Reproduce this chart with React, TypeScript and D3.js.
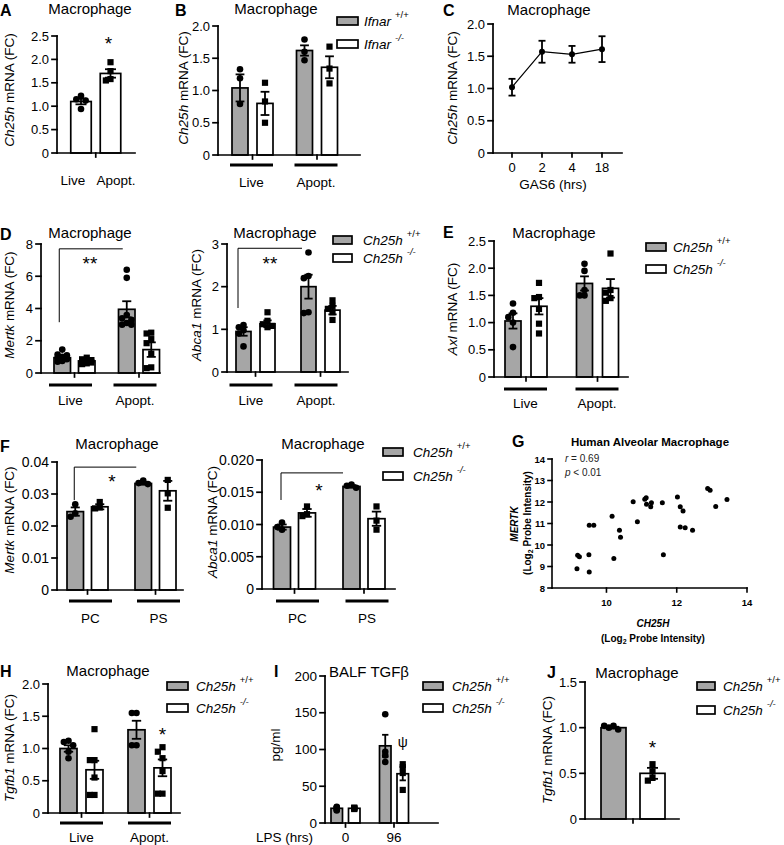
import React from "react";
import * as d3 from "d3";

const FONT = "'Liberation Sans', Arial, Helvetica, sans-serif";
const GRAY = "#a6a6a6";
const SW = 1.7;

// ---------------- DATA ----------------
const liveApopt = ["Live", "Apopt."];
const pcps = ["PC", "PS"];
const lpsHrs = ["0", "96"];
const single = ["all"];

// A
const aMean = [1.1, 1.7];
const aSem = [0.06, 0.09];
const aPts = [[1.22, 1.15, 1.12, 0.94], [1.94, 1.75, 1.58, 1.55]];
// B (Ifnar)
const bWtMean = [1.04, 1.62];
const bWtSem = [0.21, 0.08];
const bWtPts = [[1.33, 1.19, 0.79], [1.79, 1.6, 1.47]];
const bKoMean = [0.8, 1.36];
const bKoSem = [0.18, 0.17];
const bKoPts = [[1.12, 0.83, 0.5], [1.68, 1.34, 1.11]];
// C
const cTime = ["0", "2", "4", "18"];
const cMean = [1.02, 1.57, 1.53, 1.61];
const cSem = [0.13, 0.17, 0.13, 0.2];
// D Mertk
const dMWtMean = [0.95, 3.95];
const dMWtSem = [0.1, 0.5];
const dMWtPts = [[1.45, 1.15, 1.1, 1.0, 0.95, 0.85, 0.75, 0.7], [6.4, 5.9, 3.6, 3.4, 3.3, 3.1, 3.0, 3.0]];
const dMKoMean = [0.75, 1.45];
const dMKoSem = [0.06, 0.45];
const dMKoPts = [[0.95, 0.85, 0.8, 0.75, 0.7, 0.65, 0.6, 0.55], [2.5, 2.45, 2.1, 1.85, 1.2, 0.35, 0.3]];
// D Abca1
const dAWtMean = [0.95, 2.0];
const dAWtSem = [0.1, 0.28];
const dAWtPts = [[1.1, 1.05, 0.98, 0.9, 0.6], [2.8, 2.25, 2.2, 1.4, 1.38]];
const dAKoMean = [1.13, 1.45];
const dAKoSem = [0.08, 0.1];
const dAKoPts = [[1.4, 1.2, 1.12, 1.08, 1.05], [1.68, 1.55, 1.48, 1.4, 1.22]];
// E Axl
const eWtMean = [1.03, 1.72];
const eWtSem = [0.14, 0.13];
const eWtPts = [[1.35, 1.18, 1.1, 1.0, 0.55], [2.08, 1.95, 1.6, 1.5, 1.5]];
const eKoMean = [1.3, 1.63];
const eKoSem = [0.15, 0.17];
const eKoPts = [[1.73, 1.47, 1.45, 1.25, 0.98, 0.8], [2.27, 1.6, 1.55, 1.45, 1.4]];
// F Mertk
const fMWtMean = [0.0245, 0.0333];
const fMWtSem = [0.0013, 0.0004];
const fMWtPts = [[0.0268, 0.024, 0.0229], [0.0342, 0.0334, 0.0331]];
const fMKoMean = [0.026, 0.031];
const fMKoSem = [0.0008, 0.0031];
const fMKoPts = [[0.0275, 0.0258, 0.0255], [0.0344, 0.0302, 0.0257]];
// F Abca1
const fAWtMean = [0.0096, 0.0159];
const fAWtSem = [0.0004, 0.0002];
const fAWtPts = [[0.0103, 0.0096, 0.0092], [0.0162, 0.016, 0.0157]];
const fAKoMean = [0.0118, 0.0109];
const fAKoSem = [0.0006, 0.0011];
const fAKoPts = [[0.0128, 0.0116, 0.0113], [0.0128, 0.0106, 0.0092]];
// G scatter
const gX = [9.16, 9.18, 9.23, 9.5, 9.51, 9.51, 9.64, 10.16, 10.21, 10.37, 10.4, 10.76, 10.88, 11.09, 11.13, 11.14, 11.26, 11.28, 11.59, 11.62, 12.02, 12.1, 12.1, 12.18, 12.24, 12.45, 12.88, 12.95, 13.11, 13.43];
const gY = [8.89, 9.52, 9.45, 9.55, 8.75, 10.92, 10.92, 11.34, 9.37, 10.69, 10.36, 12.01, 11.08, 12.13, 12.2, 11.9, 11.78, 11.96, 11.96, 9.55, 12.23, 11.78, 10.84, 11.58, 10.8, 10.69, 12.63, 12.55, 11.79, 12.12];
// H Tgfb1
const hWtMean = [1.0, 1.29];
const hWtSem = [0.05, 0.14];
const hWtPts = [[1.12, 1.1, 1.05, 0.95, 0.85], [1.55, 1.55, 1.05, 1.05]];
const hKoMean = [0.67, 0.7];
const hKoSem = [0.14, 0.13];
const hKoPts = [[1.3, 0.82, 0.82, 0.55, 0.28, 0.28], [1.02, 0.95, 0.85, 0.65, 0.3, 0.3]];
// I BALF TGFb
const iWtMean = [20, 105];
const iWtSem = [2, 15];
const iWtPts = [[22, 21, 18, 17], [148, 97, 92, 83]];
const iKoMean = [20, 67];
const iKoSem = [1, 9];
const iKoPts = [[21, 20, 20, 19], [80, 76, 68, 45]];
// J
const jWtMean = [1.0];
const jWtSem = [0.01];
const jWtPts = [[1.02, 1.02, 1.0, 0.98]];
const jKoMean = [0.5];
const jKoSem = [0.06];
const jKoPts = [[0.6, 0.52, 0.45, 0.42]];

// tick values / labels
const t25 = [0, 0.5, 1, 1.5, 2, 2.5];
const t25L = ["0", "0.5", "1.0", "1.5", "2.0", "2.5"];
const t20 = [0, 0.5, 1, 1.5, 2];
const t20L = ["0", "0.5", "1.0", "1.5", "2.0"];
const t8 = [0, 2, 4, 6, 8];
const t8L = ["0", "2", "4", "6", "8"];
const t3 = [0, 1, 2, 3];
const t3L = ["0", "1", "2", "3"];
const t04 = [0, 0.01, 0.02, 0.03, 0.04];
const t04L = ["0", "0.01", "0.02", "0.03", "0.04"];
const t02 = [0, 0.005, 0.01, 0.015, 0.02];
const t02L = ["0", "0.005", "0.010", "0.015", "0.020"];
const t200 = [0, 50, 100, 150, 200];
const t200L = ["0", "50", "100", "150", "200"];
const t15 = [0, 0.5, 1, 1.5];
const t15L = ["0", "0.5", "1.0", "1.5"];
const gXT = [10, 12, 14];
const gYT = [8, 9, 10, 11, 12, 13, 14];

// ---------------- HELPERS ----------------
type SeriesT = { fill: string; marker: string[]; mean: number[]; sem: number[]; pts: number[][] };
type Annot = { g: number; s: number; v: number; text: string; dx?: number; size?: number; base?: number };
type Bracket = { g0: number; g1: number; s: number; top: number; leg: number; dx0: number; dx1: number; text: string; tx: number; ty: number };

function swarm(vals: number[], y: (v: number) => number, r: number, maxOff: number) {
  const placed: [number, number][] = [];
  const spread = r * 1.5;
  const cands = [0, -1, 1, -2, 2, -3, 3].map((k) => k * spread).filter((c) => Math.abs(c) <= maxOff);
  return vals.map((v) => {
    const py = y(v);
    let best = cands[0];
    let bestD = -1;
    for (const c of cands) {
      const d = placed.length ? Math.min(...placed.map(([qx, qy]) => Math.hypot(qx - c, qy - py))) : Infinity;
      if (d >= 2 * r * 0.8) {
        best = c;
        bestD = d;
        break;
      }
      if (d > bestD) {
        bestD = d;
        best = c;
      }
    }
    placed.push([best, py]);
    return [best, py];
  });
}

function BarPanel(p: {
  cats: string[];
  series: SeriesT[];
  domain: [number, number];
  ticks: number[];
  tickLabels: string[];
  tickSize?: number;
  x0: number;
  x1: number;
  yB: number;
  yT: number;
  gRange: [number, number];
  half: number;
  bw: number;
  tickAt?: string;
  showCats?: boolean;
  catY?: number;
  catDx?: number[];
  underY?: number;
  underDx?: number;
  annots?: Annot[];
  brackets?: Bracket[];
}) {
  const y = d3.scaleLinear().domain(p.domain).range([p.yB, p.yT]);
  const gx = d3.scalePoint<string>().domain(p.cats).range(p.gRange);
  const nS = p.series.length;
  const step = nS > 1 ? 2 * p.half - p.bw : p.bw;
  const sx = d3
    .scaleBand<number>()
    .domain(d3.range(nS))
    .range([-p.half, p.half])
    .paddingInner(nS > 1 ? 1 - p.bw / step : 0)
    .paddingOuter(0);
  const bw = sx.bandwidth();
  const left = (g: number, s: number) => (gx(p.cats[g]) as number) + (sx(s) as number);
  const mid = (g: number, s: number) => left(g, s) + bw / 2;
  const gC = p.cats.map((c) => gx(c) as number);
  const xTicks = p.tickAt === "middle" ? [d3.mean(gC) as number] : gC;
  const capW = Math.min(bw * 0.55, 11);
  const r = 3.1;
  const udx = p.underDx ?? 0;
  const ts = p.tickSize ?? 13;
  return (
    <g>
      {p.series.map((s, si) =>
        p.cats.map((c, gi) => (
          <rect
            key={`b${si}-${gi}`}
            x={left(gi, si)}
            y={y(s.mean[gi])}
            width={bw}
            height={y(p.domain[0]) - y(s.mean[gi])}
            fill={s.fill}
            stroke="#000"
            strokeWidth={SW}
          />
        ))
      )}
      {p.series.map((s, si) =>
        p.cats.map((c, gi) =>
          swarm(s.pts[gi], y, r, Math.max(bw / 2 - 2, 4)).map(([dx, py], k) =>
            s.marker[gi] === "s" ? (
              <rect key={`p${si}-${gi}-${k}`} x={mid(gi, si) + dx - r} y={py - r} width={2 * r} height={2 * r} fill="#000" />
            ) : (
              <circle key={`p${si}-${gi}-${k}`} cx={mid(gi, si) + dx} cy={py} r={r + 0.2} fill="#000" />
            )
          )
        )
      )}
      {p.series.map((s, si) =>
        p.cats.map((c, gi) => {
          const cx = mid(gi, si);
          const hi = y(s.mean[gi] + s.sem[gi]);
          const lo = y(s.mean[gi] - s.sem[gi]);
          return (
            <g key={`e${si}-${gi}`} stroke="#000" strokeWidth={1.8}>
              <line x1={cx} x2={cx} y1={hi} y2={lo} />
              <line x1={cx - capW / 2} x2={cx + capW / 2} y1={hi} y2={hi} />
              <line x1={cx - capW / 2} x2={cx + capW / 2} y1={lo} y2={lo} />
            </g>
          );
        })
      )}
      {/* axes */}
      <g stroke="#000" strokeWidth={SW} strokeLinecap="square">
        <line x1={p.x0} x2={p.x0} y1={p.yB} y2={p.yT} />
        <line x1={p.x0} x2={p.x1} y1={p.yB} y2={p.yB} />
        {p.ticks.map((t) => (
          <line key={`yt${t}`} x1={p.x0 - 5} x2={p.x0} y1={y(t)} y2={y(t)} />
        ))}
        {xTicks.map((t, i) => (
          <line key={`xt${i}`} x1={t} x2={t} y1={p.yB} y2={p.yB + 4} />
        ))}
      </g>
      {p.ticks.map((t, i) => (
        <text key={`yl${t}`} x={p.x0 - 8} y={y(t)} textAnchor="end" dominantBaseline="central" fontSize={ts}>
          {p.tickLabels[i]}
        </text>
      ))}
      {p.underY !== undefined &&
        gC.map((c, i) => (
          <line key={`u${i}`} x1={c + udx - 21.5} x2={c + udx + 21.5} y1={p.underY} y2={p.underY} stroke="#000" strokeWidth={3} />
        ))}
      {p.showCats !== false &&
        p.cats.map((c, i) => (
          <text
            key={`c${i}`}
            x={gC[i] + udx + (p.catDx ? p.catDx[i] : 0)}
            y={p.catY}
            textAnchor="middle"
            dominantBaseline="central"
            fontSize={13.5}
          >
            {c}
          </text>
        ))}
      {(p.brackets || []).map((b, i) => {
        const xa = mid(b.g0, b.s) + b.dx0;
        const xb = mid(b.g1, b.s) + b.dx1;
        return (
          <g key={`br${i}`}>
            <path d={`M${xa},${y(b.leg)}V${y(b.top)}H${xb}`} fill="none" stroke="#000" strokeWidth={1} />
            <text x={b.tx} y={b.ty + 0.5 * 19} textAnchor="middle" fontSize={19}>
              {b.text}
            </text>
          </g>
        );
      })}
      {(p.annots || []).map((a, i) => {
        const fs = a.size ?? 19;
        return (
          <text key={`an${i}`} x={mid(a.g, a.s) + (a.dx ?? 0)} y={y(a.v) + (a.base ?? 0.5) * fs} textAnchor="middle" fontSize={fs}>
            {a.text}
          </text>
        );
      })}
    </g>
  );
}

function VLabel({ x, y, children, size = 13.5 }: { x: number; y: number; children: React.ReactNode; size?: number }) {
  return (
    <text transform={`translate(${x},${y}) rotate(-90)`} textAnchor="middle" dominantBaseline="central" fontSize={size}>
      {children}
    </text>
  );
}

function Legend({ x, w, rows, tx, gene }: { x: number; w: number; rows: number[]; tx: number; gene: string }) {
  const items = [
    { fill: GRAY, sup: "+/+" },
    { fill: "#fff", sup: "-/-" },
  ];
  return (
    <g>
      {items.map((it, i) => (
        <g key={i}>
          <rect x={x} y={rows[i] - 4} width={w} height={8} fill={it.fill} stroke="#000" strokeWidth={SW} />
          <text x={tx} y={rows[i] + 5} fontSize={13.5}>
            <tspan fontStyle="italic">{gene}</tspan>
            <tspan dx={4} dy={-8} fontSize={9.5} fontStyle={i === 1 ? "italic" : "normal"}>
              {it.sup}
            </tspan>
          </text>
        </g>
      ))}
    </g>
  );
}

function Title({ x, y, text }: { x: number; y: number; text: string }) {
  return (
    <text x={x} y={y} textAnchor="middle" fontSize={15}>
      {text}
    </text>
  );
}

function Letter({ x, y, text }: { x: number; y: number; text: string }) {
  return (
    <text x={x} y={y} fontSize={16} fontWeight="bold">
      {text}
    </text>
  );
}

function PanelC() {
  const x = d3.scalePoint<string>().domain(cTime).range([512, 602]);
  const y = d3.scaleLinear().domain([0, 2]).range([153, 24]);
  const line = d3
    .line<number>()
    .x((d, i) => x(cTime[i]) as number)
    .y((d) => y(d));
  const x0 = 493;
  return (
    <g>
      <path d={line(cMean) || ""} fill="none" stroke="#000" strokeWidth={1.2} />
      {cMean.map((m, i) => {
        const cx = x(cTime[i]) as number;
        return (
          <g key={i} stroke="#000" strokeWidth={1.8}>
            <line x1={cx} x2={cx} y1={y(m + cSem[i])} y2={y(m - cSem[i])} />
            <line x1={cx - 3.5} x2={cx + 3.5} y1={y(m + cSem[i])} y2={y(m + cSem[i])} />
            <line x1={cx - 3.5} x2={cx + 3.5} y1={y(m - cSem[i])} y2={y(m - cSem[i])} />
            <circle cx={cx} cy={y(m)} r={3} fill="#000" stroke="none" />
          </g>
        );
      })}
      <g stroke="#000" strokeWidth={SW} strokeLinecap="square">
        <line x1={x0} x2={x0} y1={153} y2={24} />
        <line x1={x0} x2={622} y1={153} y2={153} />
        {t20.map((t) => (
          <line key={t} x1={x0 - 5} x2={x0} y1={y(t)} y2={y(t)} />
        ))}
        {cTime.map((t) => (
          <line key={t} x1={x(t)} x2={x(t)} y1={153} y2={157} />
        ))}
      </g>
      {t20.map((t, i) => (
        <text key={t} x={x0 - 8} y={y(t)} textAnchor="end" dominantBaseline="central" fontSize={13}>
          {t20L[i]}
        </text>
      ))}
      {cTime.map((t) => (
        <text key={t} x={x(t)} y={167} textAnchor="middle" dominantBaseline="central" fontSize={13}>
          {t}
        </text>
      ))}
      <text x={553} y={184} textAnchor="middle" dominantBaseline="central" fontSize={13.5}>
        GAS6 (hrs)
      </text>
    </g>
  );
}

function PanelG() {
  const x = d3.scaleLinear().domain([8.45, 14]).range([552, 747]);
  const y = d3.scaleLinear().domain([8, 14]).range([588, 459]);
  return (
    <g>
      <g stroke="#000" strokeWidth={1.6} strokeLinecap="square">
        <line x1={552} x2={552} y1={588} y2={459} />
        <line x1={552} x2={747} y1={588} y2={588} />
        {gYT.map((t) => (
          <line key={t} x1={548} x2={552} y1={y(t)} y2={y(t)} />
        ))}
        {gXT.map((t) => (
          <line key={t} x1={x(t)} x2={x(t)} y1={588} y2={592} />
        ))}
      </g>
      {gYT.map((t) => (
        <text key={t} x={545} y={y(t)} textAnchor="end" dominantBaseline="central" fontSize={9.5} fontWeight="bold">
          {t}
        </text>
      ))}
      {gXT.map((t) => (
        <text key={t} x={x(t)} y={602} textAnchor="middle" dominantBaseline="central" fontSize={9.5} fontWeight="bold">
          {t}
        </text>
      ))}
      {gX.map((v, i) => (
        <circle key={i} cx={x(v)} cy={y(gY[i])} r={2.5} fill="#000" />
      ))}
      <text x={650} y={446} textAnchor="middle" fontSize={11.5} fontWeight="bold">
        Human Alveolar Macrophage
      </text>
      <text x={565} y={458} dominantBaseline="central" fontSize={10} fill="#222">
        <tspan fontStyle="italic">r</tspan> = 0.69
      </text>
      <text x={565} y={472} dominantBaseline="central" fontSize={10} fill="#222">
        <tspan fontStyle="italic">p</tspan> {"< 0.01"}
      </text>
      <text x={653} y={623} textAnchor="middle" dominantBaseline="central" fontSize={10} fontWeight="bold" fontStyle="italic">
        CH25H
      </text>
      <text x={653} y={638} textAnchor="middle" dominantBaseline="central" fontSize={10} fontWeight="bold">
        (Log<tspan fontSize={7} dy={3}>2</tspan>
        <tspan dy={-3}> Probe Intensity)</tspan>
      </text>
      <VLabel x={514} y={524} size={10}>
        <tspan fontWeight="bold" fontStyle="italic">
          MERTK
        </tspan>
      </VLabel>
      <text transform="translate(527,523) rotate(-90)" textAnchor="middle" dominantBaseline="central" fontSize={10} fontWeight="bold">
        (Log<tspan fontSize={7} dy={3}>2</tspan>
        <tspan dy={-3}> Probe Intensity)</tspan>
      </text>
    </g>
  );
}

const gene = (g: string, rest: string) => (
  <>
    <tspan fontStyle="italic">{g}</tspan>
    {rest}
  </>
);

export default function App() {
  const C2 = ["c", "c"];
  const S2 = ["s", "s"];
  return (
    <svg width={784} height={845} style={{ position: "absolute", left: 0, top: 0 }} fontFamily={FONT}>
      <rect width={784} height={845} fill="#fff" />

      {/* A */}
      <Letter x={0} y={16} text="A" />
      <Title x={90} y={14} text="Macrophage" />
      <VLabel x={9} y={90}>{gene("Ch25h", " mRNA (FC)")}</VLabel>
      <BarPanel
        cats={liveApopt}
        series={[{ fill: "#fff", marker: ["c", "s"], mean: aMean, sem: aSem, pts: aPts }]}
        domain={[0, 2.5]}
        ticks={t25}
        tickLabels={t25L}
        x0={57}
        x1={135}
        yB={153}
        yT={36}
        gRange={[81, 110.5]}
        half={10.25}
        bw={20.5}
        tickAt="middle"
        catY={180}
        catDx={[-8, 5.5]}
        annots={[{ g: 1, s: 0, v: 2.41, text: "*", dx: -2 }]}
      />

      {/* B */}
      <Letter x={175} y={16} text="B" />
      <Title x={276} y={14} text="Macrophage" />
      <VLabel x={183} y={88}>{gene("Ch25h", " mRNA (FC)")}</VLabel>
      <BarPanel
        cats={liveApopt}
        series={[
          { fill: GRAY, marker: C2, mean: bWtMean, sem: bWtSem, pts: bWtPts },
          { fill: "#fff", marker: S2, mean: bKoMean, sem: bKoSem, pts: bKoPts },
        ]}
        domain={[0, 2]}
        ticks={t20}
        tickLabels={t20L}
        x0={218}
        x1={360}
        yB={155}
        yT={26}
        gRange={[252.5, 317]}
        half={20.5}
        bw={16}
        catY={182}
        underY={165}
        underDx={-1}
      />
      <Legend x={337} w={21} rows={[21, 44]} tx={364} gene="Ifnar" />

      {/* C */}
      <Letter x={443} y={16} text="C" />
      <Title x={549} y={15} text="Macrophage" />
      <VLabel x={452} y={88}>{gene("Ch25h", " mRNA (FC)")}</VLabel>
      <PanelC />

      {/* D */}
      <Letter x={0} y={240} text="D" />
      <Title x={90} y={238} text="Macrophage" />
      <VLabel x={9} y={305}>{gene("Mertk", " mRNA (FC)")}</VLabel>
      <BarPanel
        cats={liveApopt}
        series={[
          { fill: GRAY, marker: C2, mean: dMWtMean, sem: dMWtSem, pts: dMWtPts },
          { fill: "#fff", marker: S2, mean: dMKoMean, sem: dMKoSem, pts: dMKoPts },
        ]}
        domain={[0, 8]}
        ticks={t8}
        tickLabels={t8L}
        x0={41}
        x1={160}
        yB={373}
        yT={244}
        gRange={[74.5, 139]}
        half={20.5}
        bw={16.5}
        catY={400}
        underY={385}
        underDx={-4}
        brackets={[{ g0: 0, g1: 1, s: 0, top: 7.7, leg: 3.15, dx0: -3, dx1: -4, text: "**", tx: 90, ty: 260 }]}
      />
      <Title x={275} y={238} text="Macrophage" />
      <VLabel x={196} y={305}>{gene("Abca1", " mRNA (FC)")}</VLabel>
      <BarPanel
        cats={liveApopt}
        series={[
          { fill: GRAY, marker: C2, mean: dAWtMean, sem: dAWtSem, pts: dAWtPts },
          { fill: "#fff", marker: S2, mean: dAKoMean, sem: dAKoSem, pts: dAKoPts },
        ]}
        domain={[0, 3]}
        ticks={t3}
        tickLabels={t3L}
        x0={227}
        x1={348}
        yB={372}
        yT={244}
        gRange={[255.5, 320.5]}
        half={19.5}
        bw={15}
        catY={400}
        underY={385}
        underDx={-4.5}
        brackets={[{ g0: 0, g1: 1, s: 0, top: 2.9, leg: 1.5, dx0: -5.5, dx1: -6.5, text: "**", tx: 270, ty: 260 }]}
      />
      <Legend x={333} w={19} rows={[240, 258]} tx={363} gene="Ch25h" />

      {/* E */}
      <Letter x={443} y={238} text="E" />
      <Title x={554} y={238} text="Macrophage" />
      <VLabel x={452} y={309}>{gene("Axl", " mRNA (FC)")}</VLabel>
      <BarPanel
        cats={liveApopt}
        series={[
          { fill: GRAY, marker: C2, mean: eWtMean, sem: eWtSem, pts: eWtPts },
          { fill: "#fff", marker: S2, mean: eKoMean, sem: eKoSem, pts: eKoPts },
        ]}
        domain={[0, 2.5]}
        ticks={t25}
        tickLabels={t25L}
        x0={494}
        x1={628}
        yB={377}
        yT={241}
        gRange={[526, 597.5]}
        half={21}
        bw={16}
        catY={403}
        underY={389}
        underDx={-0.5}
      />
      <Legend x={646} w={20} rows={[247, 269]} tx={673} gene="Ch25h" />

      {/* F */}
      <Letter x={0} y={452} text="F" />
      <Title x={117} y={449} text="Macrophage" />
      <VLabel x={9} y={520}>{gene("Mertk", " mRNA (FC)")}</VLabel>
      <BarPanel
        cats={pcps}
        series={[
          { fill: GRAY, marker: C2, mean: fMWtMean, sem: fMWtSem, pts: fMWtPts },
          { fill: "#fff", marker: S2, mean: fMKoMean, sem: fMKoSem, pts: fMKoPts },
        ]}
        domain={[0, 0.04]}
        ticks={t04}
        tickLabels={t04L}
        tickSize={14}
        x0={57}
        x1={183}
        yB={590}
        yT={462}
        gRange={[87.5, 155.5]}
        half={20.5}
        bw={16.5}
        catY={618}
        underY={601}
        underDx={3}
        brackets={[{ g0: 0, g1: 1, s: 0, top: 0.0384, leg: 0.0281, dx0: -1, dx1: -7, text: "*", tx: 112, ty: 478 }]}
      />
      <Title x={323} y={449} text="Macrophage" />
      <VLabel x={212} y={522}>{gene("Abca1", " mRNA (FC)")}</VLabel>
      <BarPanel
        cats={pcps}
        series={[
          { fill: GRAY, marker: C2, mean: fAWtMean, sem: fAWtSem, pts: fAWtPts },
          { fill: "#fff", marker: S2, mean: fAKoMean, sem: fAKoSem, pts: fAKoPts },
        ]}
        domain={[0, 0.02]}
        ticks={t02}
        tickLabels={t02L}
        tickSize={14}
        x0={262}
        x1={395}
        yB={589}
        yT={460}
        gRange={[294.5, 364]}
        half={21}
        bw={17}
        catY={618}
        underY={601}
        underDx={3}
        brackets={[{ g0: 0, g1: 1, s: 0, top: 0.018, leg: 0.0138, dx0: -1, dx1: -8.5, text: "*", tx: 319, ty: 487 }]}
      />
      <Legend x={383} w={20} rows={[452, 476]} tx={413} gene="Ch25h" />

      {/* G */}
      <Letter x={512} y={447} text="G" />
      <PanelG />

      {/* H */}
      <Letter x={0} y={677} text="H" />
      <Title x={108} y={676} text="Macrophage" />
      <VLabel x={9} y={748}>{gene("Tgfb1", " mRNA (FC)")}</VLabel>
      <BarPanel
        cats={liveApopt}
        series={[
          { fill: GRAY, marker: C2, mean: hWtMean, sem: hWtSem, pts: hWtPts },
          { fill: "#fff", marker: S2, mean: hKoMean, sem: hKoSem, pts: hKoPts },
        ]}
        domain={[0, 2]}
        ticks={t20}
        tickLabels={t20L}
        x0={48}
        x1={180}
        yB={813}
        yT={684}
        gRange={[81.5, 149.5]}
        half={21.5}
        bw={17}
        catY={837}
        underY={823}
        underDx={0}
        annots={[{ g: 1, s: 1, v: 1.26, text: "*" }]}
      />
      <Legend x={167} w={21} rows={[686, 708]} tx={196} gene="Ch25h" />

      {/* I */}
      <Letter x={274} y={677} text="I" />
      <Title x={369} y={677} text="BALF TGFβ" />
      <VLabel x={275} y={745}>pg/ml</VLabel>
      <BarPanel
        cats={lpsHrs}
        series={[
          { fill: GRAY, marker: C2, mean: iWtMean, sem: iWtSem, pts: iWtPts },
          { fill: "#fff", marker: S2, mean: iKoMean, sem: iKoSem, pts: iKoPts },
        ]}
        domain={[0, 200]}
        ticks={t200}
        tickLabels={t200L}
        tickSize={13.5}
        x0={325}
        x1={438}
        yB={823}
        yT={676}
        gRange={[345.5, 394]}
        half={14.5}
        bw={11.5}
        catY={837}
        annots={[{ g: 1, s: 1, v: 108.8, text: "ψ", size: 14, base: 0.25 }]}
      />
      <text x={313} y={837} textAnchor="end" dominantBaseline="central" fontSize={13.5}>
        LPS (hrs)
      </text>
      <Legend x={423} w={20} rows={[686, 708]} tx={452} gene="Ch25h" />

      {/* J */}
      <Letter x={547} y={678} text="J" />
      <Title x={637} y={678} text="Macrophage" />
      <VLabel x={547} y={750}>{gene("Tgfb1", " mRNA (FC)")}</VLabel>
      <BarPanel
        cats={single}
        series={[
          { fill: GRAY, marker: ["c"], mean: jWtMean, sem: jWtSem, pts: jWtPts },
          { fill: "#fff", marker: ["s"], mean: jKoMean, sem: jKoSem, pts: jKoPts },
        ]}
        domain={[0, 1.5]}
        ticks={t15}
        tickLabels={t15L}
        x0={585}
        x1={679}
        yB={819}
        yT={682}
        gRange={[633, 633]}
        half={32}
        bw={25}
        showCats={false}
        annots={[{ g: 0, s: 1, v: 0.82, text: "*" }]}
      />
      <Legend x={697} w={18} rows={[686, 710]} tx={723} gene="Ch25h" />
    </svg>
  );
}
